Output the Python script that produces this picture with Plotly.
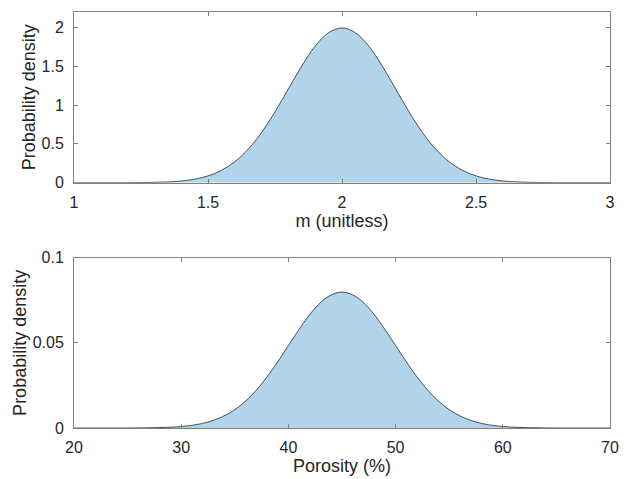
import plotly.graph_objects as go
from plotly.subplots import make_subplots

# Top panel: m (unitless)
m_x = [1.0, 1.1, 1.2, 1.25, 1.3, 1.35, 1.4, 1.45, 1.5, 1.55, 1.6, 1.65, 1.7, 1.75, 1.8, 1.85, 1.9, 1.95,
       2.0, 2.05, 2.1, 2.15, 2.2, 2.25, 2.3, 2.35, 2.4, 2.45, 2.5, 2.55, 2.6, 2.65, 2.7, 2.75, 2.8, 2.9, 3.0]
m_pdf = [0.0, 0.0001, 0.0007, 0.0018, 0.0044, 0.0102, 0.0222, 0.0455, 0.0876, 0.1586, 0.270, 0.4315, 0.6476,
         0.9132, 1.2099, 1.5056, 1.7603, 1.9333, 1.9947, 1.9333, 1.7603, 1.5056, 1.2099, 0.9132, 0.6476, 0.4315,
         0.270, 0.1586, 0.0876, 0.0455, 0.0222, 0.0102, 0.0044, 0.0018, 0.0007, 0.0001, 0.0]

# Bottom panel: Porosity (%)
por_x = [20, 22.5, 25, 26.25, 27.5, 28.75, 30, 31.25, 32.5, 33.75, 35, 36.25, 37.5, 38.75, 40, 41.25, 42.5, 43.75,
         45, 46.25, 47.5, 48.75, 50, 51.25, 52.5, 53.75, 55, 56.25, 57.5, 58.75, 60, 61.25, 62.5, 63.75, 65, 67.5, 70]
por_pdf = [0.0, 0.000003, 0.000027, 0.000071, 0.000175, 0.000408, 0.000886, 0.00182, 0.003505, 0.006343, 0.0108,
           0.01726, 0.0259, 0.03653, 0.0484, 0.06022, 0.07041, 0.07733, 0.07979, 0.07733, 0.07041, 0.06022, 0.0484,
           0.03653, 0.0259, 0.01726, 0.0108, 0.006343, 0.003505, 0.00182, 0.000886, 0.000408, 0.000175, 0.000071,
           0.000027, 0.000003, 0.0]

m_xticks = [1, 1.5, 2, 2.5, 3]
m_xlabels = ["1", "1.5", "2", "2.5", "3"]
m_yticks = [0, 0.5, 1, 1.5, 2]
m_ylabels = ["0", "0.5", "1", "1.5", "2"]
por_xticks = [20, 30, 40, 50, 60, 70]
por_yticks = [0, 0.05, 0.1]
por_ylabels = ["0", "0.05", "0.1"]

FILL = "#b1d4eb"
EDGE = "#2a2a2a"
AX = "#808080"
TXT = "#262626"
FONT = "Liberation Sans, Arial, Helvetica, sans-serif"
TICK = 16
TITLE = 18

fig = make_subplots(rows=2, cols=1)
fig.add_trace(go.Scatter(x=m_x, y=m_pdf, mode="lines", fill="tozeroy", fillcolor=FILL,
                         line=dict(color=EDGE, width=0.8, shape="spline"), showlegend=False), row=1, col=1)
fig.add_trace(go.Scatter(x=por_x, y=por_pdf, mode="lines", fill="tozeroy", fillcolor=FILL,
                         line=dict(color=EDGE, width=0.8, shape="spline"), showlegend=False), row=2, col=1)

common = dict(showline=True, linecolor=AX, linewidth=1, mirror="ticks", ticks="inside", ticklen=4,
              tickcolor=AX, tickwidth=1, showgrid=False, zeroline=False, automargin=False,
              tickfont=dict(size=TICK, color=TXT, family=FONT))

fig.update_xaxes(**common)
fig.update_yaxes(**common)

xt = dict(font=dict(size=TITLE, color=TXT, family=FONT), standoff=3)
yt = dict(font=dict(size=TITLE, color=TXT, family=FONT), standoff=1)

fig.update_xaxes(range=[1, 3], tickvals=m_xticks, ticktext=m_xlabels, ticklabelstandoff=5,
                 title=dict(text="m (unitless)", **xt), domain=[0, 1], row=1, col=1)
fig.update_yaxes(range=[0, 2.2], tickvals=m_yticks, ticktext=m_ylabels, ticklabelstandoff=6,
                 title=dict(text="Probability density", **yt), domain=[0.5897, 1], row=1, col=1)
fig.update_xaxes(range=[20, 70], tickvals=por_xticks, ticklabelstandoff=5,
                 title=dict(text="Porosity (%)", **xt), domain=[0, 1], row=2, col=1)
fig.update_yaxes(range=[0, 0.1], tickvals=por_yticks, ticktext=por_ylabels, ticklabelstandoff=6,
                 title=dict(text="Probability density", **yt), domain=[0, 0.4094], row=2, col=1)

fig.update_layout(width=628, height=479, margin=dict(l=74, r=18, t=12, b=51),
                  paper_bgcolor="white", plot_bgcolor="white",
                  font=dict(family=FONT, color=TXT))

fig.write_html("out.html")
